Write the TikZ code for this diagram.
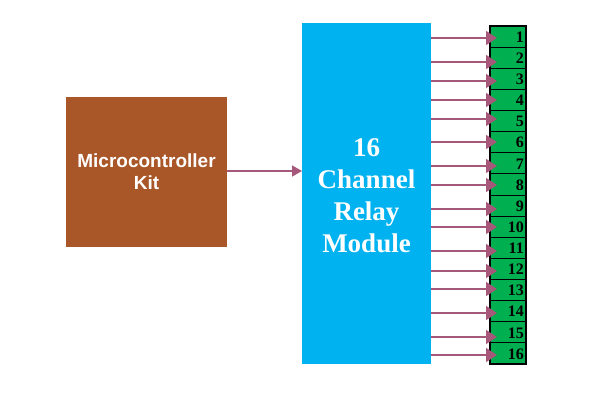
\documentclass[tikz,border=0pt]{standalone}
\usepackage{fontspec}
\setmainfont{Liberation Serif}
\newfontfamily\arialfont{Liberation Sans}
\usetikzlibrary{arrows.meta}
\definecolor{mcbrown}{HTML}{A95628}
\definecolor{relayblue}{HTML}{00B2EF}
\definecolor{cellgreen}{HTML}{00B050}
\definecolor{arrowmauve}{HTML}{A5587A}
\begin{document}
\begin{tikzpicture}[x=1pt,y=-1pt,
  blockbox/.style={inner sep=0pt, outer sep=0pt, text=white},
  cellbox/.style={draw=black, line width=0.8pt, fill=cellgreen, minimum width=36pt, minimum height=21.125pt, inner sep=0pt, outer sep=0pt, anchor=north west},
  numtext/.style={font=\bfseries\fontsize{16}{16}\selectfont, anchor=east, inner sep=0pt},
  arr/.style={draw=arrowmauve, line width=1.6pt, -{Triangle[length=11pt,width=14pt]}},
  arrsmall/.style={draw=arrowmauve, line width=1.6pt, -{Triangle[length=10pt,width=11pt]}}
]
\useasboundingbox (0,0) rectangle (603,400);
\node[blockbox, fill=mcbrown, minimum width=161pt, minimum height=150pt, anchor=north west,
      font=\arialfont\bfseries\fontsize{19}{22}\selectfont, align=center] (mc) at (66,97) {Microcontroller\\Kit};
\node[blockbox, fill=relayblue, minimum width=129pt, minimum height=341pt, anchor=north west] (relay) at (302,23) {};
\node[blockbox, font=\bfseries\fontsize{27}{32}\selectfont, align=center] (relaytext) at ([yshift=-2pt]relay.center) {16\\Channel\\Relay\\Module};
\draw[arrsmall] (mc.east |- 0,171) -- (relay.west |- 0,171);
\foreach \i/\y in {1/38,2/62,3/81,4/100,5/119,6/142,7/166,8/185,9/209,10/227,11/251,12/271,13/289,14/313,15/337,16/355}{
  \node[cellbox] (c\i) at (490,{26+21.125*(\i-1)}) {};
  \node[numtext] (n\i) at ([xshift=-2pt,yshift=-0.5pt]c\i.east) {\i};
}
\draw[line width=1.6pt] (c1.north west) rectangle (c16.south east);
\foreach \i/\y in {1/38,2/62,3/81,4/100,5/119,6/142,7/166,8/185,9/209,10/227,11/251,12/271,13/289,14/313,15/337,16/355}{
  \draw[arr] (relay.east |- 0,\y) -- ([xshift=7pt]c\i.west |- 0,\y);
}
\end{tikzpicture}
\end{document}
